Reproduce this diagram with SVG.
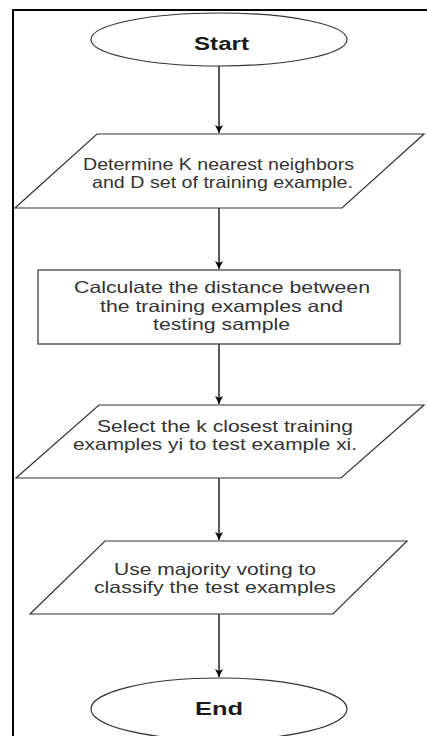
<svg xmlns="http://www.w3.org/2000/svg" width="427" height="736" viewBox="0 0 427 736">
  <style>
    .shape { fill: #ffffff; stroke: #333333; stroke-width: 1.2; }
    .frame { fill: none; stroke: #000000; stroke-width: 2; }
    .edge { fill: none; stroke: #000000; stroke-width: 1.3; }
    .label { font-family: "Liberation Sans", Arial, sans-serif; font-size: 16.5px; fill: #333333; text-anchor: middle; }
    .term { font-family: "Liberation Sans", Arial, sans-serif; font-size: 18px; font-weight: bold; fill: #1a1a1a; text-anchor: middle; }
  </style>
  <defs>
    <marker id="arrow" viewBox="0 0 10 10" refX="10" refY="5" markerWidth="8" markerHeight="8" markerUnits="userSpaceOnUse" orient="auto">
      <path d="M0,0 L10,5 L0,10 L2.5,5 Z" fill="#000000"/>
    </marker>
  </defs>

  <rect width="427" height="736" fill="#ffffff"/>

  <!-- outer frame (top and left edges) -->
  <path class="frame" d="M13,736 L13,10 L427,10"/>

  <g id="connectors">
    <line class="edge" x1="219" y1="66" x2="219" y2="133" marker-end="url(#arrow)"/>
    <line class="edge" x1="219" y1="208" x2="219" y2="269" marker-end="url(#arrow)"/>
    <line class="edge" x1="219" y1="344" x2="219" y2="404" marker-end="url(#arrow)"/>
    <line class="edge" x1="219" y1="478" x2="219" y2="540" marker-end="url(#arrow)"/>
    <line class="edge" x1="219" y1="614" x2="219" y2="677" marker-end="url(#arrow)"/>
  </g>

  <g id="start">
    <ellipse class="shape" cx="219" cy="39.5" rx="128" ry="26.5"/>
    <text class="term" x="221.5" y="50" textLength="55" lengthAdjust="spacingAndGlyphs">Start</text>
  </g>

  <g id="determine">
    <polygon class="shape" points="97,134 424,134 342,208 15,208"/>
    <text class="label" x="218.5" y="170" textLength="271" lengthAdjust="spacingAndGlyphs">Determine K nearest neighbors</text>
    <text class="label" x="222.5" y="188" textLength="261" lengthAdjust="spacingAndGlyphs">and D set of training example.</text>
  </g>

  <g id="calculate">
    <rect class="shape" x="38" y="270" width="362" height="74"/>
    <text class="label" x="222" y="293" textLength="296" lengthAdjust="spacingAndGlyphs">Calculate the distance between</text>
    <text class="label" x="221.5" y="312" textLength="243" lengthAdjust="spacingAndGlyphs">the training examples and</text>
    <text class="label" x="221.5" y="330" textLength="137" lengthAdjust="spacingAndGlyphs">testing sample</text>
  </g>

  <g id="select">
    <polygon class="shape" points="99,405 424,405 341,478 16,478"/>
    <text class="label" x="225" y="432" textLength="256" lengthAdjust="spacingAndGlyphs">Select the k closest training</text>
    <text class="label" x="215" y="450" textLength="284" lengthAdjust="spacingAndGlyphs">examples yi to test example xi.</text>
  </g>

  <g id="vote">
    <polygon class="shape" points="105,541 407,541 333,614 30,614"/>
    <text class="label" x="215" y="575" textLength="202" lengthAdjust="spacingAndGlyphs">Use majority voting to</text>
    <text class="label" x="215" y="593" textLength="242" lengthAdjust="spacingAndGlyphs">classify the test examples</text>
  </g>

  <g id="end">
    <ellipse class="shape" cx="219" cy="709" rx="128" ry="31"/>
    <text class="term" x="219" y="715" textLength="48" lengthAdjust="spacingAndGlyphs">End</text>
  </g>
</svg>
